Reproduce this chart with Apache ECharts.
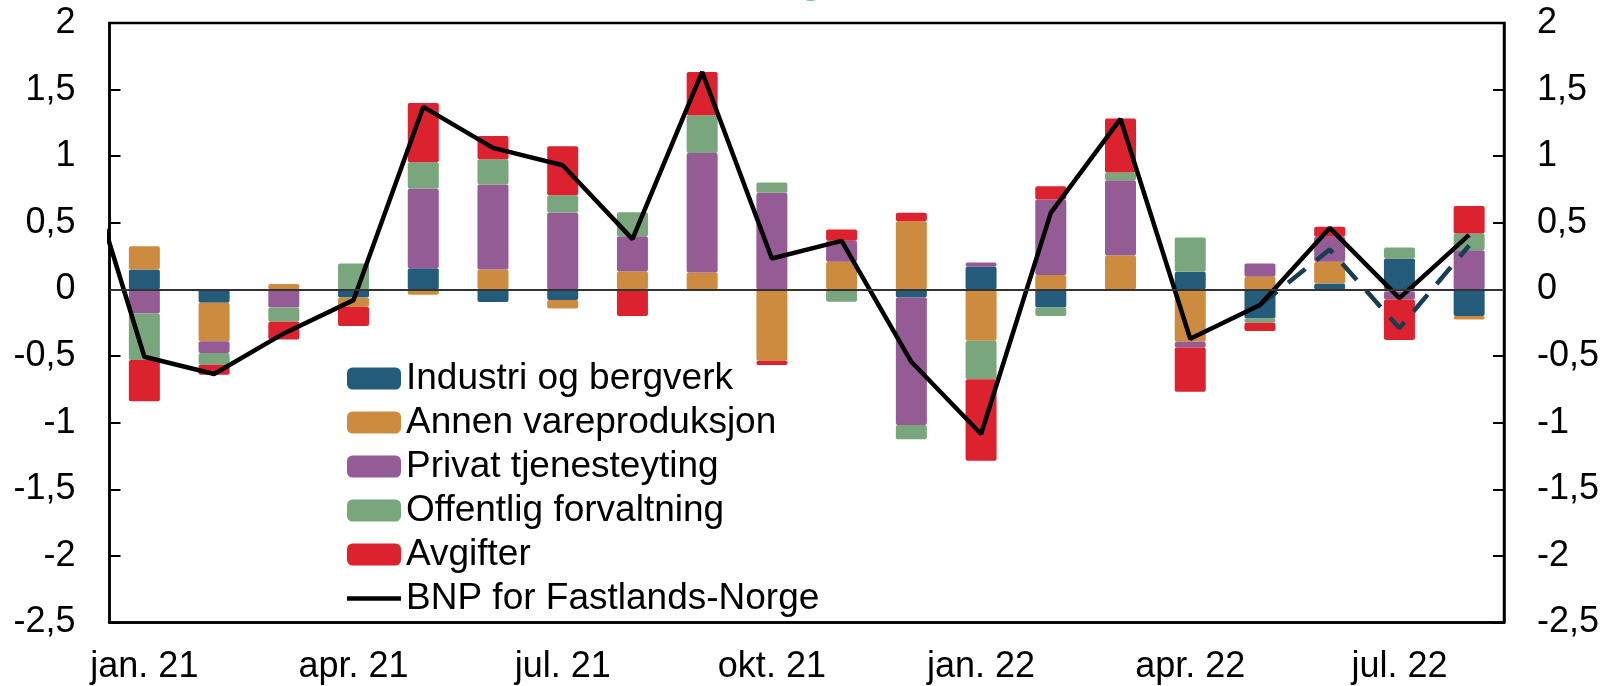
<!DOCTYPE html>
<html>
<head>
<meta charset="utf-8">
<script src="https://cdn.jsdelivr.net/npm/echarts@6/dist/echarts.min.js"></script>
<style>
  html, body { margin: 0; padding: 0; background: #fff; }
  #chart { width: 1604px; height: 686px; }
</style>
</head>
<body>
<div id="chart"></div>
<script>
// måneder jan. 21 - aug. 22
const months = ['jan. 21', 'feb. 21', 'mar. 21', 'apr. 21', 'mai. 21', 'jun. 21', 'jul. 21', 'aug. 21', 'sep. 21', 'okt. 21',
  'nov. 21', 'des. 21', 'jan. 22', 'feb. 22', 'mar. 22', 'apr. 22', 'mai. 22', 'jun. 22', 'jul. 22', 'aug. 22'];

// bidrag til vekst, prosentenheter
const industri  = [0.15, -0.10, 0, -0.06, 0.16, -0.095, -0.08, 0, 0, 0, 0, -0.06, 0.17, -0.135, 0, 0.1325, -0.2175, 0.045, 0.2325, -0.20];
const annen     = [0.175, -0.288, 0.04, -0.07, -0.04, 0.15, -0.0625, 0.1375, 0.1275, -0.535, 0.2075, 0.5125, -0.385, 0.1075, 0.2575, -0.393, 0.095, 0.1625, -0.015, -0.025];
const privat    = [-0.18, -0.09, -0.135, 0, 0.595, 0.6375, 0.5775, 0.2625, 0.8975, 0.725, 0.1575, -0.958, 0.0325, 0.5675, 0.5625, -0.042, 0.10, 0.1875, -0.06, 0.295];
const offentlig = [-0.35, -0.088, -0.108, 0.195, 0.20, 0.19, 0.13, 0.18, 0.2825, 0.0775, -0.0925, -0.107, -0.29, -0.065, 0.0575, 0.2575, -0.0325, 0, 0.0825, 0.125];
const avgifter  = [-0.31, -0.075, -0.132, -0.145, 0.445, 0.175, 0.3675, -0.20, 0.325, -0.033, 0.085, 0.0625, -0.61, 0.10, 0.405, -0.333, -0.0625, 0.075, -0.305, 0.207];

// BNP for Fastlands-Norge, des. 20 ligger utenfor plottet (bare starten av linja synes)
const bnpDes20 = 1.2;
const bnp = [-0.505, -0.635, -0.33, -0.08, 1.37, 1.0625, 0.9325, 0.3775, 1.6325, 0.2325,
  0.365, -0.543, -1.085, 0.575, 1.28, -0.37, -0.1175, 0.462, -0.065, 0.41];
// stiplet linje mai - aug 22
const bnpAltStart = 16;
const bnpAlt = [-0.1175, 0.30, -0.29, 0.33];

const FONT = '"Liberation Sans", Arial, sans-serif';
const colors = ['#245a7a', '#cd8b40', '#955b95', '#79a67c', '#dc222e'];
const names = ['Industri og bergverk', 'Annen vareproduksjon', 'Privat tjenesteyting', 'Offentlig forvaltning', 'Avgifter'];
const lineName = 'BNP for Fastlands-Norge';
const barData = [industri, annen, privat, offentlig, avgifter];

const bnpPoints = [[-1, bnpDes20]].concat(bnp.map((v, i) => [i, v]));
const altPoints = bnpAlt.map((v, i) => [bnpAltStart + i, v]);

const fmt = v => String(v).replace('.', ',');

const chart = echarts.init(document.getElementById('chart'), null, { renderer: 'canvas' });

const barSeries = names.map((n, k) => ({
  name: n,
  type: 'bar',
  stack: 'bidrag',
  xAxisIndex: 0,
  yAxisIndex: 0,
  barWidth: 31,
  itemStyle: { color: colors[k], borderRadius: 2 },
  data: barData[k]
}));

function yAxis(pos, margin) {
  return {
    type: 'value',
    min: -2.5, max: 2, interval: 0.5,
    position: pos,
    axisLine: { show: true, onZero: false, lineStyle: { color: '#000', width: 2.5 } },
    axisTick: { show: true, inside: true, length: 11, lineStyle: { color: '#000', width: 2 } },
    axisLabel: { fontSize: 36, color: '#000', margin: margin, formatter: fmt, fontFamily: FONT },
    splitLine: { show: false }
  };
}

const option = {
  animation: false,
  textStyle: { fontFamily: FONT },
  graphic: [{
    type: 'text',
    left: 800,
    top: -38,
    style: { text: 'g', fontSize: 40, fontFamily: FONT, fill: '#6fb5db' }
  }],
  grid: {
    left: 109.5, right: 100, top: 23, bottom: 63.5,
    show: true, borderColor: '#000', borderWidth: 2.5, backgroundColor: 'transparent'
  },
  legend: {
    orient: 'vertical',
    left: 347, top: 360,
    padding: 0,
    itemWidth: 54, itemHeight: 22, itemGap: 7,
    selectedMode: false,
    textStyle: { fontSize: 37, lineHeight: 37, color: '#000', fontFamily: FONT },
    data: names.concat([{
      name: lineName,
      icon: 'path://M0,0H54V4.5H0Z',
      itemStyle: { color: '#000' }
    }])
  },
  xAxis: [{
    type: 'category',
    data: months,
    boundaryGap: true,
    axisLine: { onZero: false, lineStyle: { color: '#000', width: 2.5 } },
    axisTick: { inside: true, length: 11, interval: 2, lineStyle: { color: '#000', width: 2 } },
    axisLabel: { interval: 2, fontSize: 36, color: '#000', margin: 27, fontFamily: FONT },
    splitLine: { show: false }
  }, {
    type: 'value',
    min: -0.5, max: months.length - 0.5,
    show: false
  }],
  yAxis: [yAxis('left', 34), yAxis('right', 33)],
  series: barSeries.concat([{
    name: 'alt',
    type: 'line',
    xAxisIndex: 1,
    yAxisIndex: 0,
    symbol: 'none',
    z: 3,
    lineStyle: { color: '#173d52', width: 4.5, type: [22, 14] },
    data: altPoints
  }, {
    name: lineName,
    type: 'line',
    xAxisIndex: 1,
    yAxisIndex: 0,
    symbol: 'none',
    clip: true,
    z: 4,
    color: '#000',
    lineStyle: { color: '#000', width: 4.5 },
    markLine: {
      silent: true,
      symbol: ['none', 'none'],
      label: { show: false },
      lineStyle: { color: '#333', width: 2, type: 'solid' },
      data: [{ yAxis: 0 }]
    },
    data: bnpPoints
  }])
};

chart.setOption(option);
</script>
</body>
</html>
